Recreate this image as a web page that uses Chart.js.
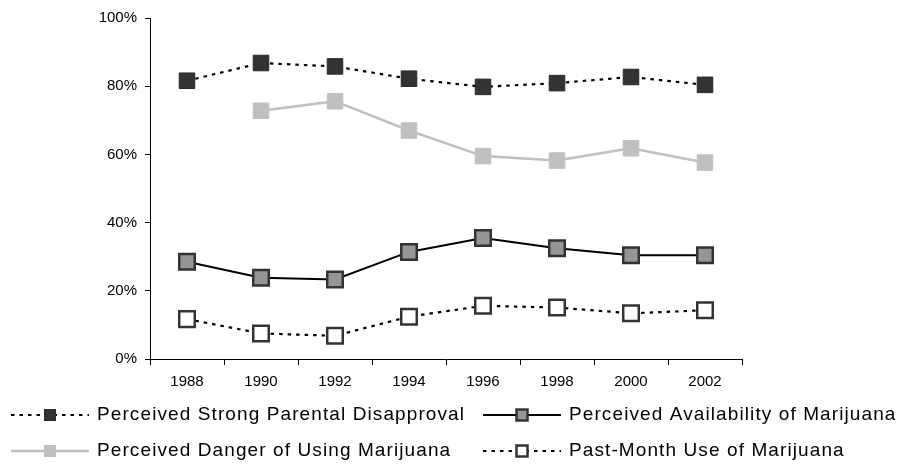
<!DOCTYPE html>
<html>
<head>
<meta charset="utf-8">
<title>Marijuana attitudes and use</title>
<script src="https://cdn.jsdelivr.net/npm/chart.js@4.4.0/dist/chart.umd.min.js"></script>
<style>
  html, body { margin: 0; padding: 0; background: #fff; }
  #wrap { width: 905px; height: 474px; position: relative; }
</style>
</head>
<body>
<div id="wrap"><canvas id="chart"></canvas></div>
<script>
// data (percent)
const years = ['1988', '1990', '1992', '1994', '1996', '1998', '2000', '2002'];
const parentalDisapproval = [81.6, 86.8, 85.8, 82.2, 79.8, 80.9, 82.7, 80.4];
const availability = [28.5, 23.8, 23.3, 31.4, 35.5, 32.5, 30.4, 30.4];
const danger = [null, 72.8, 75.6, 67.0, 59.5, 58.2, 61.8, 57.6];
const pastMonthUse = [11.7, 7.5, 6.8, 12.4, 15.6, 15.1, 13.4, 14.3];
const seriesNames = [
  'Perceived Strong Parental Disapproval',
  'Perceived Availability of Marijuana',
  'Perceived Danger of Using Marijuana',
  'Past-Month Use of Marijuana'
];
const yMin = 0, yMax = 100, yStep = 20;

const FONT = 'Arial, "Liberation Sans", sans-serif';

// legend drawn under the plot, two columns, line sample + marker
const bottomLegend = {
  id: 'bottomLegend',
  afterDraw(chart) {
    const ctx = chart.ctx;
    const cols = [11, 483];
    const rows = [415, 451];
    chart.data.datasets.forEach((ds, i) => {
      const x0 = cols[i % 2];
      const y = rows[Math.floor(i / 2)];
      const w = 78;
      ctx.save();
      ctx.strokeStyle = ds.borderColor;
      ctx.lineWidth = ds.borderWidth;
      ctx.setLineDash(ds.borderDash || []);
      ctx.beginPath();
      ctx.moveTo(x0, y);
      ctx.lineTo(x0 + w, y);
      ctx.stroke();
      ctx.setLineDash([]);
      const s = 11;
      const mx = x0 + w / 2 - s / 2;
      ctx.fillStyle = ds.pointBackgroundColor;
      ctx.fillRect(mx, y - s / 2, s, s);
      ctx.lineWidth = ds.pointBorderWidth;
      ctx.strokeStyle = ds.pointBorderColor;
      ctx.strokeRect(mx, y - s / 2, s, s);
      ctx.fillStyle = '#000';
      ctx.font = '19px ' + FONT;
      if ('letterSpacing' in ctx) ctx.letterSpacing = '1.1px';
      ctx.textBaseline = 'middle';
      ctx.textAlign = 'left';
      ctx.fillText(ds.label, x0 + 86, y);
      ctx.restore();
    });
  }
};

const ctx = document.getElementById('chart');
new Chart(ctx, {
  type: 'line',
  data: {
    labels: years,
    datasets: [
      {
        label: seriesNames[0],
        data: parentalDisapproval,
        borderColor: '#000',
        borderWidth: 2.2,
        borderDash: [3.5, 5],
        pointStyle: 'rect',
        pointRadius: 11,
        pointBackgroundColor: '#333333',
        pointBorderColor: '#2a2a2a',
        pointBorderWidth: 1
      },
      {
        label: seriesNames[1],
        data: availability,
        borderColor: '#000',
        borderWidth: 2,
        pointStyle: 'rect',
        pointRadius: 11,
        pointBackgroundColor: '#969696',
        pointBorderColor: '#333333',
        pointBorderWidth: 2.5
      },
      {
        label: seriesNames[2],
        data: danger,
        borderColor: '#c0c0c0',
        borderWidth: 2.5,
        pointStyle: 'rect',
        pointRadius: 11,
        pointBackgroundColor: '#c0c0c0',
        pointBorderColor: '#c0c0c0',
        pointBorderWidth: 1
      },
      {
        label: seriesNames[3],
        data: pastMonthUse,
        borderColor: '#000',
        borderWidth: 2.2,
        borderDash: [3.5, 5],
        pointStyle: 'rect',
        pointRadius: 11,
        pointBackgroundColor: '#ffffff',
        pointBorderColor: '#333333',
        pointBorderWidth: 2.5
      }
    ]
  },
  options: {
    responsive: true,
    maintainAspectRatio: false,
    animation: false,
    layout: { padding: { left: 0, right: 163, top: 18, bottom: 84 } },
    plugins: {
      legend: { display: false },
      tooltip: { enabled: false }
    },
    elements: { line: { tension: 0 } },
    scales: {
      x: {
        offset: true,
        grid: {
          offset: true,
          drawOnChartArea: false,
          drawTicks: true,
          tickLength: 6,
          color: '#000'
        },
        border: { color: '#000', width: 1 },
        ticks: { color: '#000', font: { family: FONT, size: 15 }, padding: 8, maxRotation: 0 },
        afterFit(scale) { scale.height = 31; }
      },
      y: {
        min: yMin,
        max: yMax,
        grid: {
          drawOnChartArea: false,
          drawTicks: true,
          tickLength: 5,
          color: '#000'
        },
        border: { color: '#000', width: 1 },
        ticks: {
          stepSize: yStep,
          color: '#000',
          font: { family: FONT, size: 15 },
          padding: 8,
          callback: v => v + '%'
        },
        afterFit(scale) { scale.width = 150; }
      }
    }
  },
  plugins: [bottomLegend]
});
</script>
</body>
</html>
